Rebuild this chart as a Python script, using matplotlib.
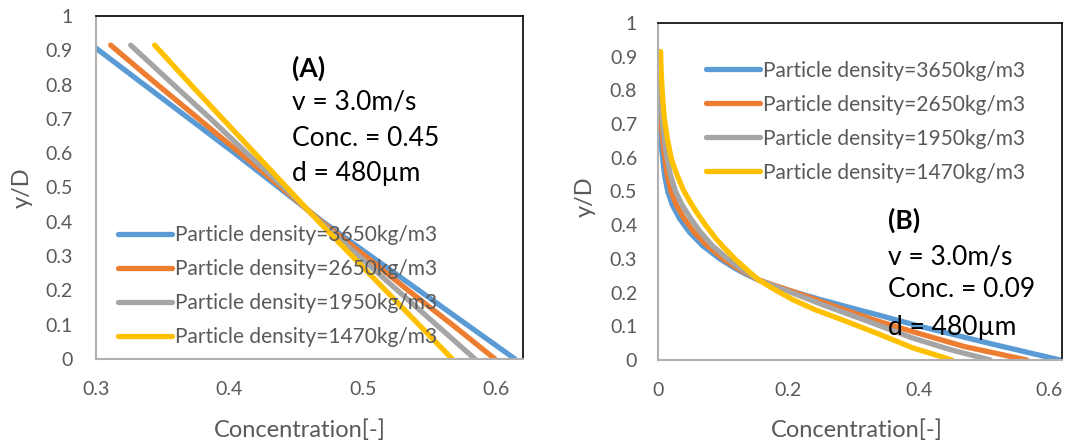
import matplotlib
matplotlib.use('Agg')
import matplotlib.pyplot as plt

# ── Data ───────────────────────────────────────────────────────────────────────
labels = ['Particle density=3650kg/m3', 'Particle density=2650kg/m3',
          'Particle density=1950kg/m3', 'Particle density=1470kg/m3']
colors = ['#5B9BD5', '#ED7D31', '#A5A5A5', '#FFC000']

# (A) Conc. = 0.45
yA = [0.915, 0.8, 0.7, 0.6, 0.5, 0.4, 0.3, 0.2, 0.1, 0.0]
xA_3650 = [0.297, 0.336, 0.370, 0.404, 0.437, 0.470, 0.506, 0.542, 0.578, 0.614]
xA_2650 = [0.311, 0.346, 0.377, 0.408, 0.439, 0.469, 0.502, 0.534, 0.567, 0.599]
xA_1950 = [0.326, 0.358, 0.386, 0.413, 0.441, 0.468, 0.497, 0.526, 0.555, 0.584]
xA_1470 = [0.344, 0.371, 0.395, 0.419, 0.443, 0.467, 0.492, 0.517, 0.542, 0.567]

# (B) Conc. = 0.09
yB_3650 = [0.915, 0.80, 0.70, 0.62, 0.55, 0.50, 0.46, 0.42, 0.38, 0.34, 0.30, 0.27,
           0.25, 0.237, 0.22, 0.20, 0.18, 0.158, 0.13, 0.10, 0.05, 0.0]
xB_3650 = [0.000, 0.001, 0.003, 0.006, 0.010, 0.015, 0.022, 0.033, 0.048, 0.068, 0.095, 0.120,
           0.140, 0.155, 0.178, 0.212, 0.248, 0.290, 0.345, 0.402, 0.507, 0.617]
yB_2650 = [0.915, 0.80, 0.70, 0.62, 0.55, 0.50, 0.46, 0.42, 0.38, 0.34, 0.30, 0.27,
           0.237, 0.20, 0.16, 0.12, 0.084, 0.04, 0.0]
xB_2650 = [0.000, 0.002, 0.005, 0.009, 0.014, 0.020, 0.028, 0.040, 0.055, 0.075, 0.100, 0.124,
           0.155, 0.212, 0.270, 0.330, 0.391, 0.470, 0.566]
yB_1950 = [0.915, 0.80, 0.70, 0.62, 0.55, 0.50, 0.46, 0.42, 0.38, 0.34, 0.30, 0.27,
           0.237, 0.20, 0.16, 0.12, 0.065, 0.03, 0.0]
xB_1950 = [0.001, 0.003, 0.007, 0.012, 0.019, 0.027, 0.037, 0.050, 0.065, 0.083, 0.107, 0.128,
           0.155, 0.205, 0.258, 0.315, 0.391, 0.450, 0.510]
yB_1470 = [0.915, 0.85, 0.78, 0.712, 0.65, 0.593, 0.55, 0.504, 0.47, 0.436, 0.40, 0.36,
           0.336, 0.30, 0.258, 0.237, 0.21, 0.178, 0.15, 0.119, 0.08, 0.036, 0.0]
xB_1470 = [0.004, 0.005, 0.007, 0.010, 0.015, 0.021, 0.029, 0.039, 0.049, 0.060, 0.073, 0.089,
           0.100, 0.118, 0.142, 0.155, 0.178, 0.208, 0.240, 0.283, 0.335, 0.391, 0.451]

seriesA = [(xA_3650, yA), (xA_2650, yA), (xA_1950, yA), (xA_1470, yA)]
seriesB = [(xB_3650, yB_3650), (xB_2650, yB_2650), (xB_1950, yB_1950), (xB_1470, yB_1470)]

yticks = [0, 0.1, 0.2, 0.3, 0.4, 0.5, 0.6, 0.7, 0.8, 0.9, 1]
ytick_labels = ['0', '0.1', '0.2', '0.3', '0.4', '0.5', '0.6', '0.7', '0.8', '0.9', '1']
xticksA = [0.3, 0.4, 0.5, 0.6]
xticksB = [0, 0.2, 0.4, 0.6]
xtick_labelsB = ['0', '0.2', '0.4', '0.6']

# ── Style ──────────────────────────────────────────────────────────────────────
plt.rcParams['font.family'] = ['Lato', 'DejaVu Sans']
tick_color = '#595959'
W, H = 1069, 446

fig = plt.figure(figsize=(W / 100, H / 100), dpi=100)
axA = fig.add_axes([96 / W, 1 - 359 / H, 427 / W, 343 / H])
axB = fig.add_axes([658 / W, 1 - 360 / H, 404 / W, 337 / H])


def style_axes(ax, ypad):
    ax.set_ylim(0, 1)
    ax.set_yticks(yticks)
    ax.set_yticklabels(ytick_labels)
    ax.tick_params(length=0, labelsize=14, colors=tick_color)
    ax.tick_params(axis='x', pad=16)
    ax.tick_params(axis='y', pad=ypad)
    for side in ['left', 'bottom']:
        ax.spines[side].set_color('#B0B0B0')
        ax.spines[side].set_linewidth(1.5)
    for side in ['top', 'right']:
        ax.spines[side].set_color('black')
        ax.spines[side].set_linewidth(1.2)


for ax, series, ypad in [(axA, seriesA, 17), (axB, seriesB, 15)]:
    for (xs, ys), c, lab in zip(series, colors, labels):
        ax.plot(xs, ys, color=c, lw=3.8, label=lab, solid_capstyle='round',
                solid_joinstyle='round')
    style_axes(ax, ypad)

axA.set_xlim(0.3, 0.62)
axA.set_xticks(xticksA)
axB.set_xlim(0, 0.62)
axB.set_xticks(xticksB)
axB.set_xticklabels(xtick_labelsB)

# axis labels
for ax, xl, yl in [(axA, 0.478, (-0.173, 0.499)), (axB, 0.493, (-0.181, 0.484))]:
    ax.set_xlabel('Concentration[-]', fontsize=17, color=tick_color, va='center')
    ax.xaxis.set_label_coords(xl, -71 / 343)
    ax.set_ylabel('y/D', fontsize=17, color=tick_color, va='center')
    ax.yaxis.set_label_coords(*yl)

# legends
leg_kw = dict(loc='upper left', frameon=False, fontsize=15, handlelength=2.6,
              handletextpad=0.15, labelspacing=0.67, borderpad=0, borderaxespad=0)
legA = axA.legend(bbox_to_anchor=(0.052, 0.39), **leg_kw)
legB = axB.legend(bbox_to_anchor=(0.119, 0.888), **leg_kw)
for leg in (legA, legB):
    for t in leg.get_texts():
        t.set_color(tick_color)

# annotations
notesA = ['v = 3.0m/s', 'Conc. = 0.45', 'd = 480µm']
notesB = ['v = 3.0m/s', 'Conc. = 0.09', 'd = 480µm']
axA.text(0.459, 0.848, '(A)', transform=axA.transAxes, fontsize=19,
         fontweight='bold', va='center', ha='left')
for t, yy in zip(notesA, [0.749, 0.644, 0.542]):
    axA.text(0.459, yy, t, transform=axA.transAxes, fontsize=19, va='center', ha='left')
axB.text(0.569, 0.415, '(B)', transform=axB.transAxes, fontsize=19,
         fontweight='bold', va='center', ha='left')
for t, yy in zip(notesB, [0.306, 0.208, 0.095]):
    axB.text(0.569, yy, t, transform=axB.transAxes, fontsize=19, va='center', ha='left')

fig.savefig('out.png', dpi=100)
